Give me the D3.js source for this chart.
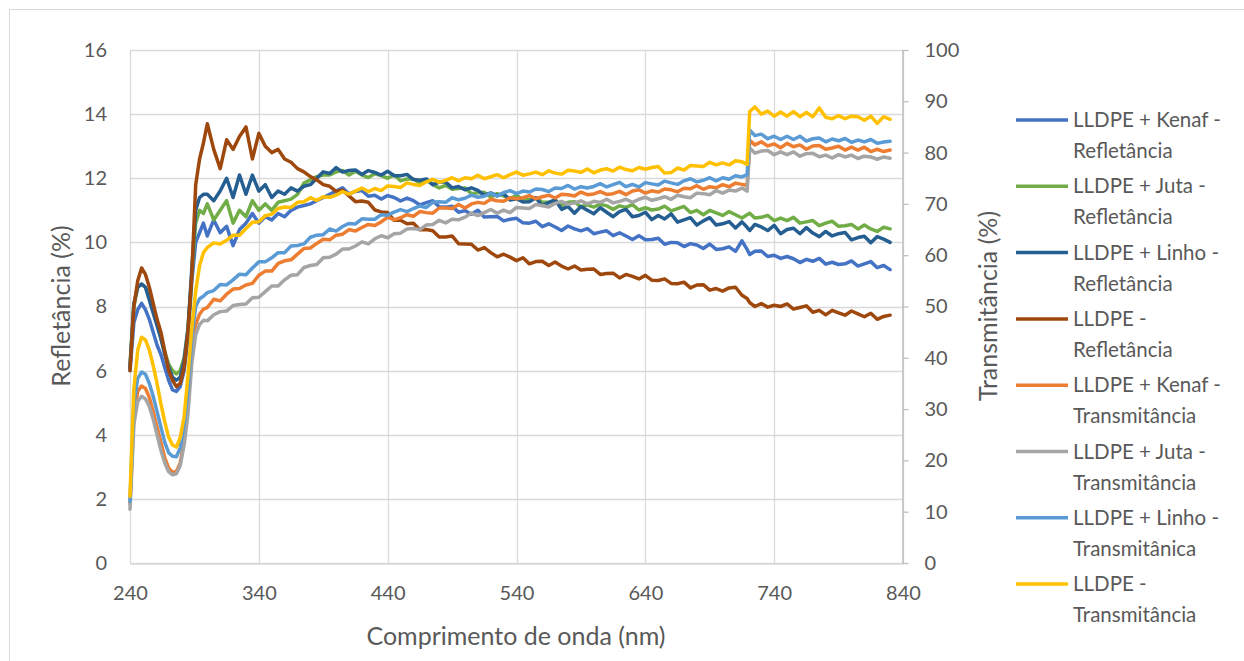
<!DOCTYPE html>
<html>
<head>
<meta charset="utf-8">
<script src="https://cdn.jsdelivr.net/npm/d3@7"></script>
<style>
  html, body { margin: 0; padding: 0; background: #fff; }
  svg { display: block; }
  text { font-family: Lato, "Noto Sans", sans-serif; fill: #595959; }
</style>
</head>
<body>
<svg id="chart" width="1244" height="661"></svg>
<script>
// Wavelength grid (nm)
const wavelengths = [
  240, 243, 246, 249, 252, 255, 258, 261, 264, 267,
  270, 273, 276, 279, 282, 285, 288, 291, 294, 297,
  300, 305, 310, 315, 320, 325, 330, 335, 340, 345,
  350, 355, 360, 365, 370, 375, 380, 385, 390, 395,
  400, 405, 410, 415, 420, 425, 430, 435, 440, 445,
  450, 455, 460, 465, 470, 475, 480, 485, 490, 495,
  500, 505, 510, 515, 520, 525, 530, 535, 540, 545,
  550, 555, 560, 565, 570, 575, 580, 585, 590, 595,
  600, 605, 610, 615, 620, 625, 630, 635, 640, 645,
  650, 655, 660, 665, 670, 675, 680, 685, 690, 695,
  700, 705, 710, 715, 719, 721, 725, 730, 735, 740,
  745, 750, 755, 760, 765, 770, 775, 780, 785, 790,
  795, 800, 805, 810, 815, 820, 825, 830
];

// Reflectance (%) - left axis
const kenafRefl = [
  6.0, 7.5, 7.9, 8.1, 7.9, 7.6, 7.2, 6.8, 6.5, 6.1,
  5.7, 5.4, 5.35, 5.5, 6.0, 7.0, 8.8, 10.0, 10.3, 10.6,
  10.2, 10.7, 10.3, 10.5, 9.9, 10.4, 10.6, 10.9, 10.6, 10.8,
  10.7, 10.9, 10.8, 11.0, 11.1, 11.15, 11.2, 11.3, 11.4, 11.5,
  11.6, 11.7, 11.51, 11.59, 11.62, 11.44, 11.47, 11.35, 11.46, 11.4,
  11.29, 11.38, 11.3, 11.17, 11.24, 11.3, 11.11, 11.1, 11.13, 10.94,
  10.99, 10.88, 11.0, 10.79, 10.8, 10.81, 10.67, 10.72, 10.75, 10.61,
  10.6, 10.66, 10.49, 10.58, 10.48, 10.37, 10.51, 10.42, 10.36, 10.43,
  10.27, 10.32, 10.36, 10.21, 10.3, 10.2, 10.09, 10.21, 10.08, 10.09,
  10.13, 9.94, 10.0, 9.99, 9.87, 9.96, 9.92, 9.81, 9.95, 9.78,
  9.8, 9.86, 9.72, 10.05, 9.78, 9.62, 9.72, 9.73, 9.56, 9.6,
  9.5, 9.56, 9.49, 9.37, 9.47, 9.41, 9.5, 9.32, 9.38, 9.31,
  9.33, 9.42, 9.26, 9.33, 9.4, 9.21, 9.28, 9.15
];
const jutaRefl = [
  6.2, 8.0, 8.6, 8.7, 8.6, 8.3, 7.9, 7.5, 7.0, 6.6,
  6.2, 6.0, 5.9, 6.0, 6.4, 7.3, 9.0, 10.6, 11.0, 10.9,
  11.2, 10.7, 11.0, 11.3, 10.6, 11.0, 10.8, 11.3, 11.0, 11.2,
  11.0, 11.25, 11.3, 11.35, 11.5, 11.85, 11.95, 12.05, 12.1, 12.1,
  12.2, 12.24, 12.1, 12.22, 12.1, 12.02, 12.14, 12.08, 12.0, 12.1,
  11.92, 11.98, 11.98, 11.84, 11.94, 11.8, 11.7, 11.78, 11.66, 11.68,
  11.7, 11.52, 11.55, 11.56, 11.41, 11.52, 11.45, 11.36, 11.47, 11.33,
  11.33, 11.39, 11.25, 11.25, 11.31, 11.15, 11.25, 11.27, 11.11, 11.17,
  11.1, 11.19, 11.14, 11.03, 11.14, 11.09, 11.18, 11.01, 11.08, 11.01,
  11.04, 11.13, 10.98, 11.05, 11.12, 10.93, 11.0, 10.86, 11.0, 10.92,
  10.84, 10.96, 10.86, 10.76, 10.86, 10.91, 10.76, 10.78, 10.84, 10.68,
  10.76, 10.68, 10.78, 10.6, 10.64, 10.68, 10.52, 10.6, 10.66, 10.5,
  10.52, 10.56, 10.42, 10.54, 10.42, 10.34, 10.47, 10.42
];
const linhoRefl = [
  6.1, 8.1, 8.6, 8.7, 8.6, 8.2, 7.8, 7.4, 7.0, 6.5,
  6.1, 5.8, 5.7, 5.8, 6.3, 7.3, 9.2, 11.0, 11.4, 11.5,
  11.5, 11.3, 11.6, 12.0, 11.4, 12.1, 11.5, 12.1, 11.6, 11.8,
  11.4, 11.6, 11.5, 11.7, 11.6, 11.75, 11.8, 12.0, 12.2, 12.15,
  12.33, 12.19, 12.24, 12.26, 12.12, 12.24, 12.18, 12.1, 12.22, 12.08,
  12.08, 12.12, 11.96, 11.94, 11.98, 11.8, 11.88, 11.88, 11.7, 11.74,
  11.64, 11.7, 11.62, 11.47, 11.54, 11.46, 11.52, 11.32, 11.36, 11.26,
  11.27, 11.39, 11.15, 11.24, 11.33, 11.03, 11.12, 10.91, 11.12, 11.0,
  10.89, 11.08, 10.94, 10.8, 10.96, 11.03, 10.8, 10.84, 10.94, 10.71,
  10.84, 10.73, 10.89, 10.63, 10.7, 10.77, 10.54, 10.67, 10.77, 10.54,
  10.58, 10.65, 10.45, 10.64, 10.47, 10.37, 10.56, 10.48, 10.37, 10.53,
  10.27, 10.4, 10.44, 10.27, 10.46, 10.29, 10.18, 10.34, 10.2, 10.27,
  10.31, 10.08, 10.15, 10.19, 9.99, 10.18, 10.1, 10.0
];
const lldpeRefl = [
  6.0, 8.0, 8.8, 9.2, 9.0, 8.6, 8.1, 7.6, 7.2, 6.6,
  6.0, 5.7, 5.5, 5.6, 6.1, 7.2, 9.0, 11.8, 12.6, 13.1,
  13.7, 12.9, 12.3, 13.2, 12.9, 13.3, 13.6, 12.6, 13.4, 13.0,
  12.8, 12.9, 12.6, 12.5, 12.3, 12.2, 12.05, 11.95, 11.8, 11.75,
  11.59, 11.63, 11.45, 11.27, 11.29, 11.25, 11.01, 10.95, 10.93, 10.69,
  10.69, 10.58, 10.6, 10.39, 10.4, 10.36, 10.17, 10.17, 10.2, 9.96,
  9.95, 9.94, 9.76, 9.84, 9.68, 9.55, 9.63, 9.54, 9.43, 9.52,
  9.33, 9.4, 9.41, 9.28, 9.39, 9.26, 9.17, 9.26, 9.14, 9.16,
  9.17, 9.0, 9.03, 9.04, 8.89, 9.0, 8.94, 8.86, 8.97, 8.82,
  8.81, 8.86, 8.72, 8.71, 8.76, 8.58, 8.67, 8.68, 8.51, 8.56,
  8.48, 8.58, 8.6, 8.35, 8.25, 8.12, 8.0, 8.09, 7.98, 8.04,
  8.0, 8.08, 7.92, 7.97, 8.02, 7.82, 7.88, 7.74, 7.88, 7.8,
  7.73, 7.86, 7.77, 7.68, 7.79, 7.6, 7.69, 7.73
];

// Transmittance (%) - right axis
const kenafTrans = [
  11.5, 28.5, 33.5, 34.5, 34.0, 32.3, 29.5, 26.5, 23.5, 20.5,
  18.5, 17.7, 17.8, 19.5, 24.0, 30.5, 41.0, 46.5, 48.5, 49.5,
  49.8, 51.4, 51.1, 52.4, 53.4, 53.5, 54.2, 54.5, 56.1, 56.9,
  56.9, 58.4, 58.9, 59.1, 60.2, 61.3, 61.4, 62.3, 63.1, 63.0,
  63.9, 64.1, 65.0, 64.7, 65.4, 66.0, 65.8, 66.5, 67.4, 66.9,
  67.3, 67.9, 67.6, 68.5, 68.3, 68.2, 69.2, 69.2, 69.1, 69.9,
  69.2, 70.0, 70.3, 70.1, 70.9, 70.6, 70.5, 71.2, 71.0, 71.2,
  71.6, 71.0, 71.4, 71.7, 71.15, 71.9, 71.8, 71.55, 72.3, 71.8,
  71.95, 72.4, 71.85, 72.0, 72.45, 71.8, 72.5, 72.75, 72.1, 72.55,
  72.3, 72.9, 72.75, 72.35, 73.05, 72.95, 73.55, 72.85, 73.35, 73.15,
  73.75, 73.35, 74.05, 73.8, 73.6, 82.4, 81.5, 82.1, 81.3, 81.7,
  80.95, 81.8, 81.15, 81.5, 80.65, 81.3, 81.4, 80.65, 80.9, 81.25,
  80.5, 81.05, 80.5, 81.05, 80.2, 80.65, 80.2, 80.5
];
const jutaTrans = [
  10.5, 27.0, 31.5, 32.5, 32.0, 30.5, 28.0, 25.0, 22.0, 19.5,
  17.8, 17.2, 17.4, 19.0, 23.0, 29.0, 39.0, 44.5, 46.5, 47.3,
  47.2, 48.4, 49.0, 49.1, 50.2, 50.4, 50.5, 51.7, 51.8, 52.9,
  54.0, 54.0, 55.2, 56.1, 56.2, 57.6, 58.0, 58.2, 59.5, 59.6,
  60.2, 61.2, 61.2, 61.8, 62.6, 62.2, 63.2, 63.8, 63.4, 64.2,
  64.3, 65.1, 65.2, 65.0, 65.9, 66.0, 66.8, 66.3, 67.0, 66.9,
  67.4, 68.2, 67.7, 68.3, 68.9, 68.2, 68.8, 68.3, 69.3, 69.2,
  69.1, 69.9, 69.7, 69.4, 70.1, 70.5, 69.9, 70.2, 70.6, 70.0,
  70.5, 70.3, 70.9, 70.2, 70.5, 70.9, 70.3, 70.9, 71.3, 70.7,
  71.0, 71.4, 70.9, 71.7, 71.4, 71.2, 72.1, 72.0, 71.8, 72.6,
  72.1, 72.7, 72.5, 73.1, 72.5, 80.9, 79.9, 80.3, 80.4, 79.6,
  80.15, 79.6, 80.15, 79.3, 79.8, 79.85, 79.2, 79.5, 78.95, 79.6,
  79.15, 79.5, 78.85, 79.3, 79.15, 78.7, 79.15, 78.9
];
const linhoTrans = [
  12.0, 31.0, 36.0, 37.2, 36.8, 35.0, 32.5, 29.5, 26.5, 23.5,
  21.5, 20.8, 20.7, 22.5, 27.0, 33.5, 44.0, 50.0, 51.5, 52.0,
  52.7, 53.1, 54.3, 54.2, 55.2, 56.3, 56.2, 57.5, 58.7, 58.7,
  59.5, 60.5, 60.5, 61.8, 61.9, 62.2, 63.5, 63.9, 64.0, 65.1,
  64.7, 65.6, 66.2, 66.1, 67.1, 67.0, 67.0, 67.9, 67.8, 68.4,
  68.9, 68.5, 69.1, 69.6, 69.3, 70.3, 70.4, 70.3, 71.2, 70.8,
  71.1, 71.7, 71.3, 71.5, 72.1, 71.5, 72.2, 72.6, 72.0, 72.5,
  72.3, 72.9, 72.8, 72.4, 73.1, 73.0, 73.6, 72.9, 73.35, 73.1,
  73.4, 73.95, 73.3, 73.75, 74.2, 73.35, 73.8, 73.3, 74.15, 73.9,
  73.7, 74.45, 74.1, 73.8, 74.5, 74.9, 74.3, 74.6, 75.1, 74.5,
  75.1, 74.8, 75.5, 75.25, 75.7, 84.4, 83.3, 83.6, 82.7, 83.2,
  82.55, 83.2, 82.55, 83.2, 82.25, 82.7, 82.85, 82.1, 82.65, 82.3,
  82.75, 82.0, 82.45, 82.1, 82.55, 81.8, 82.05, 82.2
];
const lldpeTrans = [
  13.0, 34.0, 41.5, 44.0, 43.5, 41.5, 38.5, 35.0, 31.0, 27.5,
  24.5, 23.0, 22.6, 24.5, 28.5, 36.5, 46.0, 53.0, 58.0, 60.5,
  61.5, 62.4, 62.2, 62.9, 63.9, 63.9, 65.2, 66.4, 66.5, 67.7,
  68.0, 69.1, 69.4, 69.3, 70.3, 70.4, 71.2, 70.7, 71.4, 71.3,
  71.7, 72.4, 71.9, 72.5, 73.1, 72.4, 73.0, 72.6, 73.5, 73.4,
  73.2, 74.1, 73.8, 73.6, 74.3, 74.8, 74.2, 74.6, 75.1, 74.5,
  75.1, 74.9, 75.6, 74.9, 75.3, 75.7, 75.1, 75.7, 76.2, 75.6,
  75.85, 76.2, 75.7, 76.45, 76.0, 75.8, 76.55, 76.4, 76.15, 76.8,
  76.05, 76.6, 76.85, 76.4, 77.15, 76.7, 76.45, 77.1, 76.75, 77.1,
  77.3, 76.0, 76.1, 77.0, 76.6, 77.5, 77.4, 77.3, 78.1, 77.6,
  78.0, 77.6, 78.4, 78.2, 77.7, 88.0, 88.9, 87.5, 88.1, 87.1,
  87.9, 87.1, 88.0, 87.0, 87.8, 87.0, 88.7, 86.9, 86.6, 87.2,
  86.6, 87.1, 87.0, 86.3, 87.1, 85.7, 87.0, 86.5
];

const xTicks = [240, 340, 440, 540, 640, 740, 840];
const leftTicks = [0, 2, 4, 6, 8, 10, 12, 14, 16];
const rightTicks = [0, 10, 20, 30, 40, 50, 60, 70, 80, 90, 100];

const seriesList = [
  { name: ["LLDPE + Kenaf -", "Refletância"], values: kenafRefl, axis: "left", color: "#4472C4" },
  { name: ["LLDPE + Juta -", "Refletância"], values: jutaRefl, axis: "left", color: "#70AD47" },
  { name: ["LLDPE + Linho -", "Refletância"], values: linhoRefl, axis: "left", color: "#255E91" },
  { name: ["LLDPE -", "Refletância"], values: lldpeRefl, axis: "left", color: "#9E480E" },
  { name: ["LLDPE + Kenaf -", "Transmitância"], values: kenafTrans, axis: "right", color: "#ED7D31" },
  { name: ["LLDPE + Juta -", "Transmitância"], values: jutaTrans, axis: "right", color: "#A5A5A5" },
  { name: ["LLDPE + Linho -", "Transmitânica"], values: linhoTrans, axis: "right", color: "#5B9BD5" },
  { name: ["LLDPE -", "Transmitância"], values: lldpeTrans, axis: "right", color: "#FFC000" }
];

const svg = d3.select("#chart");
const plot = { left: 130, right: 903, top: 50, bottom: 563 };

const x = d3.scaleLinear().domain([240, 840]).range([plot.left, plot.right]);
const yL = d3.scaleLinear().domain([0, 16]).range([plot.bottom, plot.top]);
const yR = d3.scaleLinear().domain([0, 100]).range([plot.bottom, plot.top]);

// chart frame
svg.append("rect")
  .attr("x", 9.5).attr("y", 9.5)
  .attr("width", 1260).attr("height", 680)
  .attr("fill", "none").attr("stroke", "#d9d9d9").attr("stroke-width", 1);

// gridlines
const grid = svg.append("g");
grid.selectAll("line.h").data(leftTicks).join("line")
  .attr("x1", plot.left).attr("x2", plot.right)
  .attr("y1", d => Math.round(yL(d)) + 0.5).attr("y2", d => Math.round(yL(d)) + 0.5)
  .attr("stroke", "#d9d9d9").attr("stroke-width", 1.3);
grid.selectAll("line.v").data(xTicks).join("line")
  .attr("x1", d => Math.round(x(d)) + 0.5).attr("x2", d => Math.round(x(d)) + 0.5)
  .attr("y1", plot.top).attr("y2", plot.bottom)
  .attr("stroke", "#d9d9d9").attr("stroke-width", 1.3);

// axes
const xAxis = svg.append("g")
  .attr("transform", `translate(0,${plot.bottom + 0.5})`)
  .call(d3.axisBottom(x).tickValues(xTicks).tickSize(0).tickPadding(22));
xAxis.select(".domain").attr("stroke", "#d9d9d9").attr("stroke-width", 1.3);

const leftAxis = svg.append("g")
  .attr("transform", `translate(${plot.left},0)`)
  .call(d3.axisLeft(yL).tickValues(leftTicks).tickSize(0).tickPadding(23));
leftAxis.select(".domain").remove();

const rightAxis = svg.append("g")
  .attr("transform", `translate(${plot.right - 0.5},0)`)
  .call(d3.axisRight(yR).tickValues(rightTicks).tickSizeInner(6).tickSizeOuter(0).tickPadding(16));
rightAxis.select(".domain").attr("stroke", "#bfbfbf").attr("stroke-width", 1.5);
rightAxis.selectAll(".tick line").attr("stroke", "#bfbfbf").attr("stroke-width", 1.3);

svg.selectAll(".tick text")
  .attr("font-family", "Lato, 'Noto Sans', sans-serif")
  .attr("font-size", 20)
  .attr("fill", "#595959");

// axis titles
svg.append("text")
  .attr("x", 516).attr("y", 645)
  .attr("text-anchor", "middle")
  .attr("font-size", 25)
  .text("Comprimento de onda (nm)");
svg.append("text")
  .attr("transform", "translate(70,306) rotate(-90)")
  .attr("text-anchor", "middle")
  .attr("font-size", 25)
  .text("Refletância (%)");
svg.append("text")
  .attr("transform", "translate(997,306) rotate(-90)")
  .attr("text-anchor", "middle")
  .attr("font-size", 25)
  .text("Transmitância (%)");

// series
svg.append("clipPath").attr("id", "plot-clip")
  .append("rect").attr("x", plot.left - 4).attr("y", plot.top - 10)
  .attr("width", plot.right - plot.left + 8).attr("height", plot.bottom - plot.top + 14);

const linesG = svg.append("g").attr("clip-path", "url(#plot-clip)");
seriesList.forEach(s => {
  const yScale = s.axis === "left" ? yL : yR;
  const line = d3.line()
    .x((d, i) => x(wavelengths[i]))
    .y(d => yScale(d));
  linesG.append("path")
    .datum(s.values)
    .attr("d", line)
    .attr("fill", "none")
    .attr("stroke", s.color)
    .attr("stroke-width", 3.5)
    .attr("stroke-linejoin", "round")
    .attr("stroke-linecap", "round");
});

// legend
const legend = svg.append("g");
const legY0 = 120, legStep = 66.3;
seriesList.forEach((s, i) => {
  const cy = legY0 + i * legStep;
  legend.append("line")
    .attr("x1", 1016).attr("x2", 1068)
    .attr("y1", cy).attr("y2", cy)
    .attr("stroke", s.color).attr("stroke-width", 3.5);
  const t = legend.append("text")
    .attr("x", 1073).attr("y", cy + 7)
    .attr("font-size", 20.5);
  t.append("tspan").attr("x", 1073).attr("dy", 0).text(s.name[0]);
  t.append("tspan").attr("x", 1073).attr("dy", 31).text(s.name[1]);
});
</script>
</body>
</html>
